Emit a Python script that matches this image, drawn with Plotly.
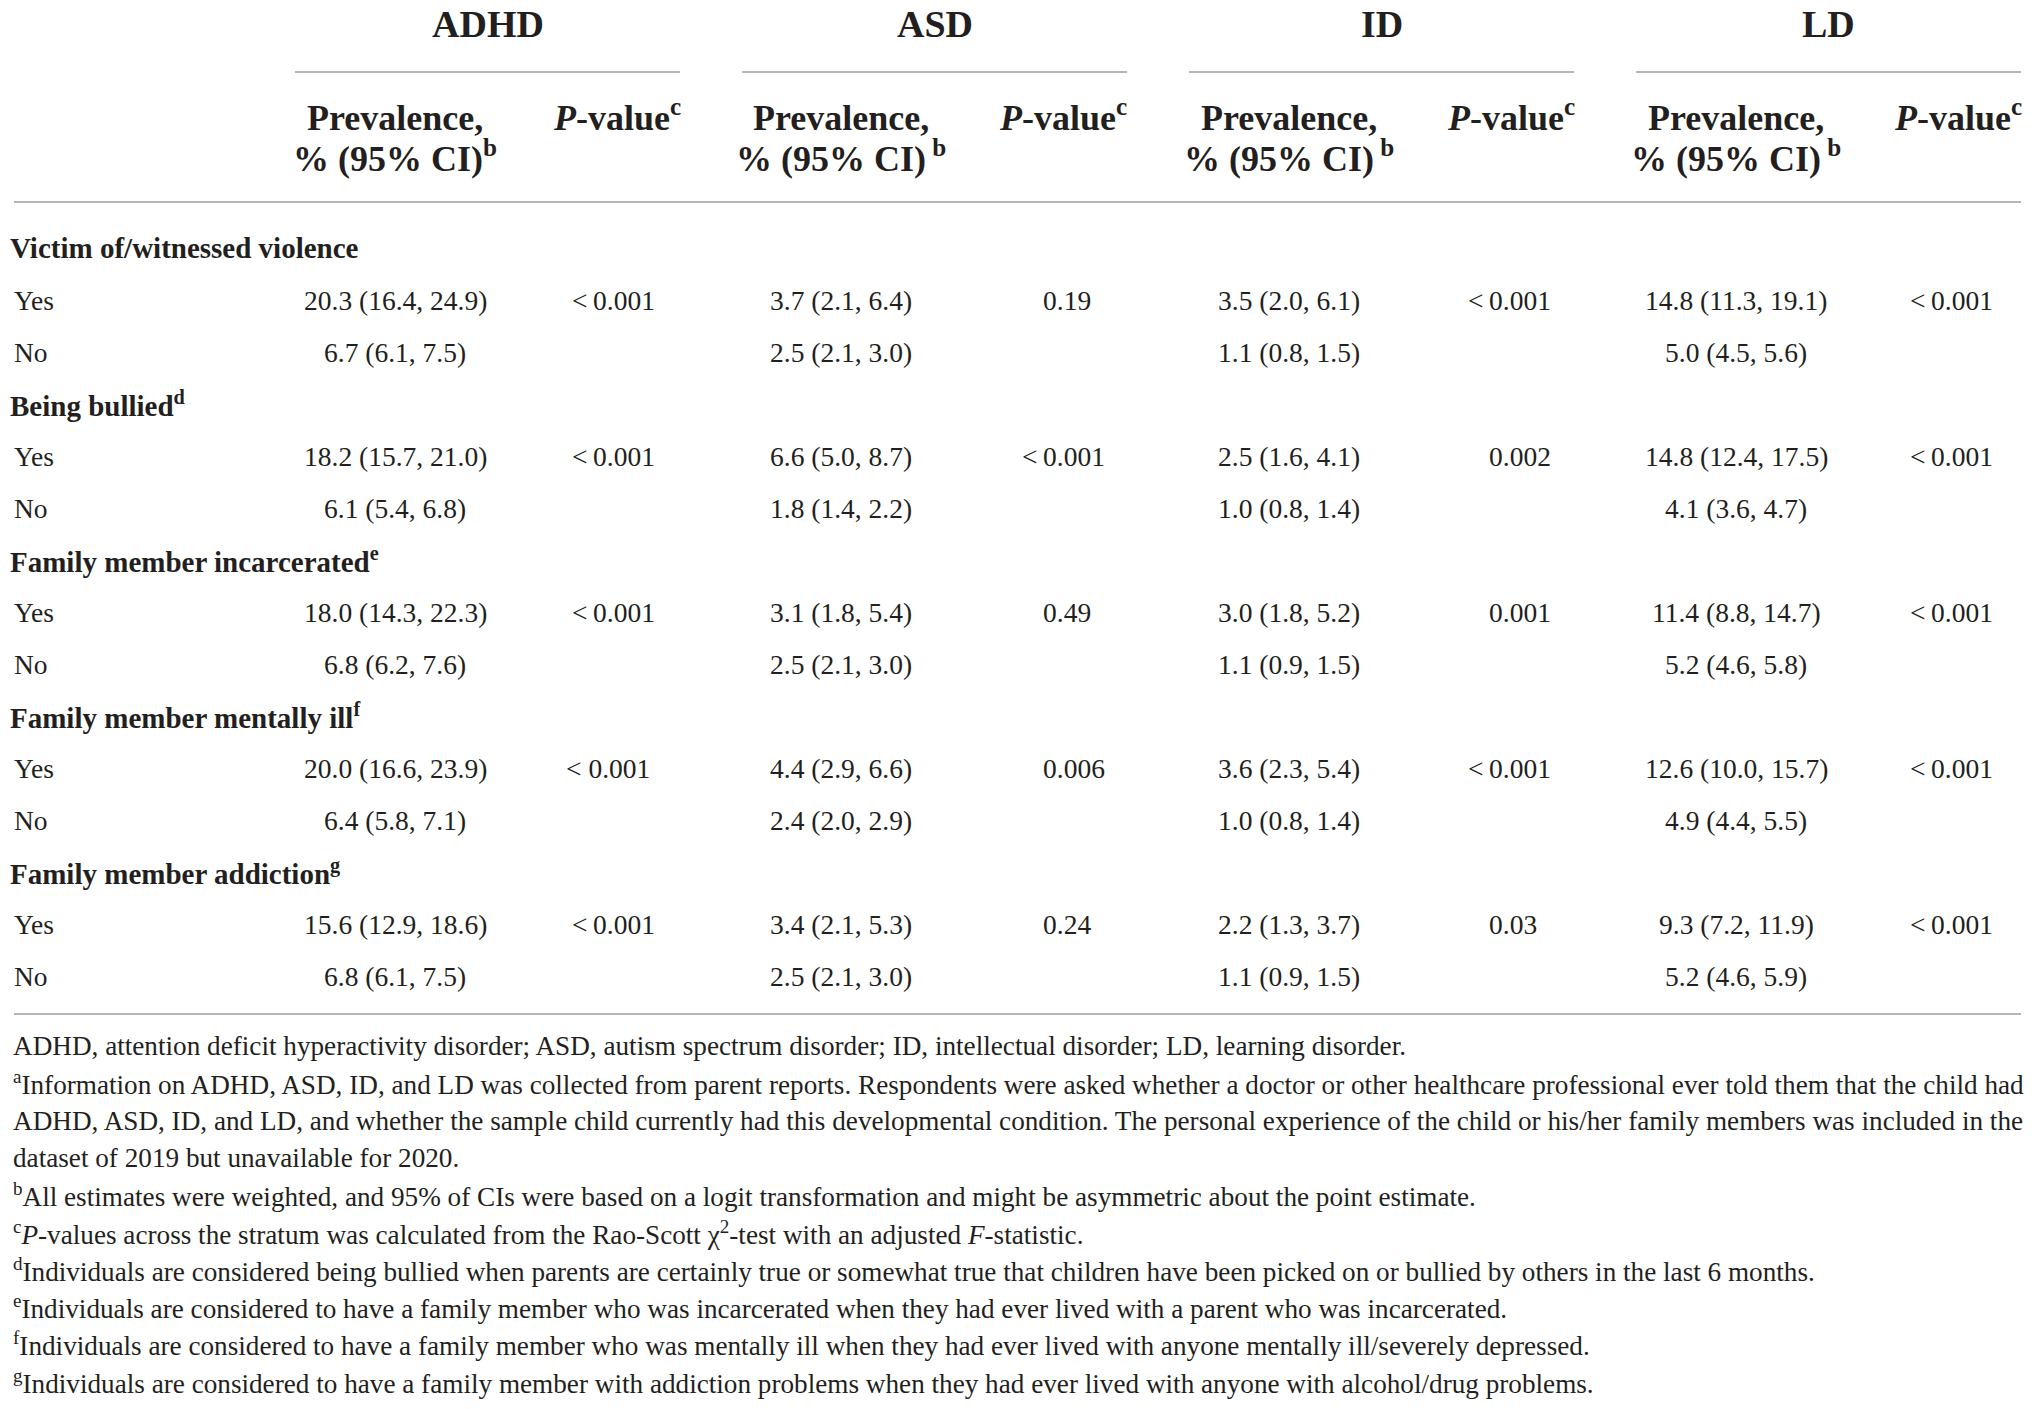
import plotly.graph_objects as go

# table content
disorders = ["ADHD", "ASD", "ID", "LD"]
ci_sup = ["b", " b", " b", " b"]          # ADHD has no gap before the b
groups = ["Victim of/witnessed violence", "Being bullied",
          "Family member incarcerated", "Family member mentally ill",
          "Family member addiction"]
group_sup = ["", "d", "e", "f", "g"]
answers = ["Yes", "No"]

adhd_prev = ["20.3 (16.4, 24.9)", "6.7 (6.1, 7.5)", "18.2 (15.7, 21.0)", "6.1 (5.4, 6.8)",
             "18.0 (14.3, 22.3)", "6.8 (6.2, 7.6)", "20.0 (16.6, 23.9)", "6.4 (5.8, 7.1)",
             "15.6 (12.9, 18.6)", "6.8 (6.1, 7.5)"]
adhd_p = ["<0.001", "<0.001", "<0.001", "< 0.001", "<0.001"]

asd_prev = ["3.7 (2.1, 6.4)", "2.5 (2.1, 3.0)", "6.6 (5.0, 8.7)", "1.8 (1.4, 2.2)",
            "3.1 (1.8, 5.4)", "2.5 (2.1, 3.0)", "4.4 (2.9, 6.6)", "2.4 (2.0, 2.9)",
            "3.4 (2.1, 5.3)", "2.5 (2.1, 3.0)"]
asd_p = ["0.19", "<0.001", "0.49", "0.006", "0.24"]

id_prev = ["3.5 (2.0, 6.1)", "1.1 (0.8, 1.5)", "2.5 (1.6, 4.1)", "1.0 (0.8, 1.4)",
           "3.0 (1.8, 5.2)", "1.1 (0.9, 1.5)", "3.6 (2.3, 5.4)", "1.0 (0.8, 1.4)",
           "2.2 (1.3, 3.7)", "1.1 (0.9, 1.5)"]
id_p = ["<0.001", "0.002", "0.001", "<0.001", "0.03"]

ld_prev = ["14.8 (11.3, 19.1)", "5.0 (4.5, 5.6)", "14.8 (12.4, 17.5)", "4.1 (3.6, 4.7)",
           "11.4 (8.8, 14.7)", "5.2 (4.6, 5.8)", "12.6 (10.0, 15.7)", "4.9 (4.4, 5.5)",
           "9.3 (7.2, 11.9)", "5.2 (4.6, 5.9)"]
ld_p = ["<0.001", "<0.001", "<0.001", "<0.001", "<0.001"]

footnotes = [
    "ADHD, attention deficit hyperactivity disorder; ASD, autism spectrum disorder; ID, intellectual disorder; LD, learning disorder.",
    "<sup>a</sup>Information on ADHD, ASD, ID, and LD was collected from parent reports. Respondents were asked whether a doctor or other healthcare professional ever told them that the child had",
    "ADHD, ASD, ID, and LD, and whether the sample child currently had this developmental condition. The personal experience of the child or his/her family members was included in the",
    "dataset of 2019 but unavailable for 2020.",
    "<sup>b</sup>All estimates were weighted, and 95% of CIs were based on a logit transformation and might be asymmetric about the point estimate.",
    "<sup>c</sup><i>P</i>-values across the stratum was calculated from the Rao-Scott \u03c7<sup>2</sup>-test with an adjusted <i>F</i>-statistic.",
    "<sup>d</sup>Individuals are considered being bullied when parents are certainly true or somewhat true that children have been picked on or bullied by others in the last 6 months.",
    "<sup>e</sup>Individuals are considered to have a family member who was incarcerated when they had ever lived with a parent who was incarcerated.",
    "<sup>f</sup>Individuals are considered to have a family member who was mentally ill when they had ever lived with anyone mentally ill/severely depressed.",
    "<sup>g</sup>Individuals are considered to have a family member with addiction problems when they had ever lived with anyone with alcohol/drug problems.",
]

prev_cols = [adhd_prev, asd_prev, id_prev, ld_prev]
p_cols = [adhd_p, asd_p, id_p, ld_p]

# layout constants (page pixels); body has an 8px margin
W, H = 2036, 1409
PAD = 8
FONT = "Liberation Serif"
INK = "#231f20"
RULE = "#b5b5b5"
prev_x = [395, 841, 1289, 1736]
pval_x = [591, 1041, 1487, 1929]
span_x = [(295, 680), (742, 1127), (1189, 1574), (1636, 2021)]
row0, row_step = 248, 52
foot0, foot_step = 1046, 37.3

fig = go.Figure()
ann = []


def txt(x, y, s, size=27.5, anchor="left", bold=False):
    if bold:
        s = "<b>" + s + "</b>"
    ann.append(dict(x=x, y=y, xref="x", yref="y", text=s, showarrow=False,
                    xanchor=anchor, yanchor="middle",
                    font=dict(family=FONT, size=size, color=INK)))


# header
for i, d in enumerate(disorders):
    cx = (span_x[i][0] + span_x[i][1]) / 2
    txt(cx, 24, d, size=38, anchor="center", bold=True)
    txt(prev_x[i], 118, "Prevalence,", size=36, anchor="center", bold=True)
    txt(prev_x[i], 156, "% (95% CI)<sup>" + ci_sup[i] + "</sup>", size=36, anchor="center", bold=True)
    txt(prev_x[i] + 156, 115, "<i>P</i>-value<sup>c</sup>", size=36, anchor="left", bold=True)

# body
row = 0
for g, name in enumerate(groups):
    label = name + ("<sup>" + group_sup[g] + "</sup>" if group_sup[g] else "")
    txt(PAD, row0 + row_step * row, label, size=29, bold=True)
    row += 1
    for a, ans in enumerate(answers):
        y = row0 + row_step * row
        txt(12, y, ans)
        k = g * 2 + a
        for c in range(4):
            txt(prev_x[c], y, prev_cols[c][k], anchor="center")
            if a == 0:
                p = p_cols[c][g]
                if p.startswith("< "):
                    txt(pval_x[c] - 27, y, "&lt; " + p[2:])
                elif p.startswith("<"):
                    txt(pval_x[c] - 21, y, "&lt;\u2009" + p[1:])
                else:
                    txt(pval_x[c], y, p)
        row += 1

# footnotes
for i, line in enumerate(footnotes):
    txt(11, foot0 + foot_step * i, line, size=27.2)

# rules
shapes = []
for x0, x1 in span_x:
    shapes.append(dict(type="line", xref="x", yref="y", x0=x0, x1=x1, y0=72, y1=72,
                       line=dict(color=RULE, width=2)))
for yl in (202, 1014):
    shapes.append(dict(type="line", xref="x", yref="y", x0=14, x1=2021, y0=yl, y1=yl,
                       line=dict(color=RULE, width=2)))

fig.update_layout(
    annotations=ann,
    shapes=shapes,
    width=W - 2 * PAD,
    height=H - 2 * PAD,
    margin=dict(l=0, r=0, t=0, b=0),
    paper_bgcolor="white",
    plot_bgcolor="white",
    showlegend=False,
    xaxis=dict(range=[PAD, W - PAD], visible=False, fixedrange=True),
    yaxis=dict(range=[H - PAD, PAD], visible=False, fixedrange=True),
)

fig.write_html("out.html")
